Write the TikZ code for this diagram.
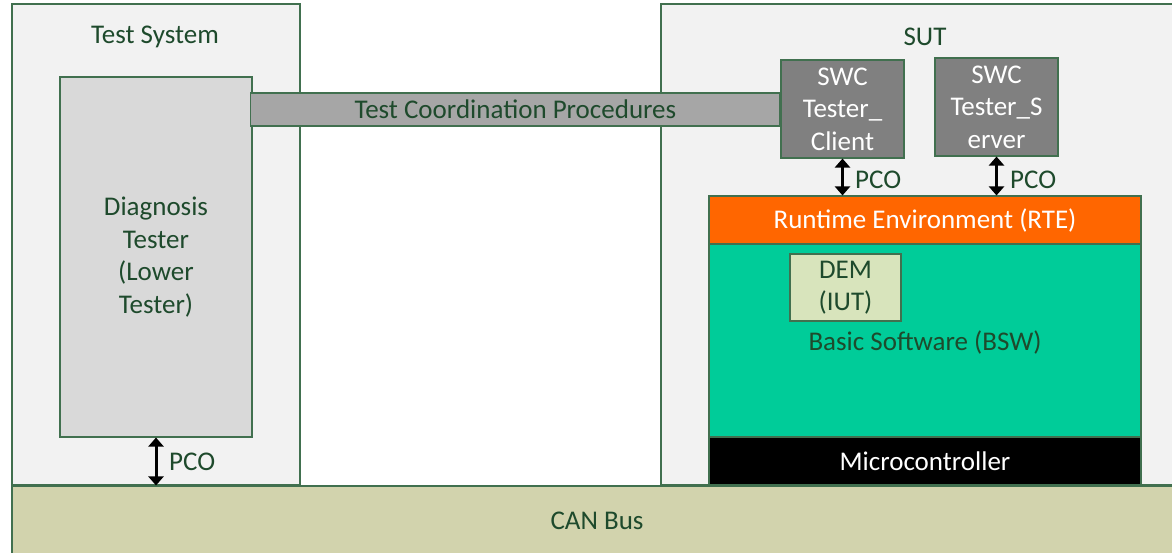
\documentclass[tikz,border=0pt]{standalone}
\usepackage{fontspec}
\setmainfont{Carlito}
\usetikzlibrary{arrows.meta}
\definecolor{bordergreen}{HTML}{41704F}
\definecolor{txtgreen}{HTML}{1E4A2C}
\definecolor{panel}{HTML}{F2F2F2}
\definecolor{diag}{HTML}{D9D9D9}
\definecolor{bar}{HTML}{A6A6A6}
\definecolor{swc}{HTML}{808080}
\definecolor{rte}{HTML}{FF6600}
\definecolor{bsw}{HTML}{00CC99}
\definecolor{dem}{HTML}{D8E4BC}
\definecolor{canbus}{HTML}{D2D3AD}
\tikzset{
  box/.style={draw=bordergreen, line width=1.1pt, inner sep=0pt, align=center,
    font=\fontsize{27}{32.5}\selectfont, text=txtgreen},
  lbl/.style={inner sep=0pt, font=\fontsize{27}{32.5}\selectfont, text=txtgreen},
  pco/.style={line width=3pt, {Triangle[width=15pt,length=9pt]}-{Triangle[width=15pt,length=9pt]}}
}
\begin{document}
\begin{tikzpicture}[x=1pt,y=-1pt]
\useasboundingbox (0,0) rectangle (1172,553);
\fill[white] (0,0) rectangle (1172,553);
% panels
\node[box, fill=panel, minimum width=288pt, minimum height=481pt] (ts) at (156,244.5) {};
\node[box, fill=panel, minimum width=520pt, minimum height=481pt] (sut) at (921,244.5) {};
\node[lbl] (tstitle) at (155,37) {Test System};
\node[lbl] (suttitle) at (925,37) {SUT};
% CAN bus
\node[box, fill=canbus, minimum width=1170pt, minimum height=70pt] (can) at (597,521) {CAN Bus};
% diagnosis tester
\node[box, fill=diag, minimum width=192pt, minimum height=360pt] (diag) at (156,257) {Diagnosis\\Tester\\(Lower\\Tester)};
% SWCs
\node[box, fill=swc, text=white, minimum width=123pt, minimum height=98pt] (client) at (842.5,109) {SWC\\Tester\_\\Client};
\node[box, fill=swc, text=white, minimum width=123pt, minimum height=98pt] (server) at (996.5,107) {SWC\\Tester\_S\\erver};
% coordination bar
\node[box, fill=bar, minimum width=529pt, minimum height=33pt, anchor=east] (tcp) at (client.west |- 0,109.5) {Test Coordination Procedures};
% stack
\node[box, fill=bsw, minimum width=432pt, minimum height=193pt] (bsw) at (925,340.5) {};
\node[lbl] (bswlbl) at (925,342) {Basic Software (BSW)};
\node[box, fill=rte, text=white, minimum width=432pt, minimum height=48pt] (rte) at (925,220) {Runtime Environment (RTE)};
\node[box, fill=black, text=white, minimum width=432pt, minimum height=48pt] (mc) at (925,461) {Microcontroller};
\node[box, fill=dem, minimum width=111pt, minimum height=67pt] (dem) at (845.5,287.5) {DEM\\(IUT)};
% PCO arrows
\coordinate (c1) at (rte.north -| client.south);
\coordinate (c2) at (rte.north -| server.south);
\coordinate (c3) at (can.north -| diag.south);
\draw[pco] (client.south) -- (c1);
\draw[pco] (server.south) -- (c2);
\draw[pco] (diag.south) -- (c3);
\node[lbl, anchor=west] (p1) at (855,180) {PCO};
\node[lbl, anchor=west] (p2) at (1010,180) {PCO};
\node[lbl, anchor=west] (p3) at (169,462) {PCO};
\end{tikzpicture}
\end{document}
